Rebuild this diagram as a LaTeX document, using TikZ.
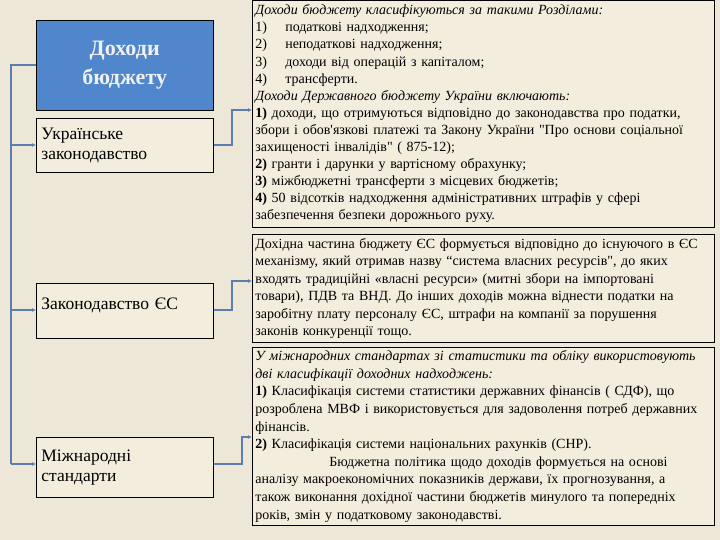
\documentclass[tikz,border=0pt]{standalone}
\usepackage{fontspec}
\setmainfont{Liberation Serif}
\usetikzlibrary{arrows.meta}
\definecolor{bgc}{HTML}{EDE7D7}
\definecolor{boxc}{HTML}{F3EDDD}
\definecolor{bluec}{HTML}{4F86CC}
\definecolor{linec}{HTML}{5B7DB0}
\tikzset{
 lbox/.style={draw=black,fill=boxc,line width=0.8pt,minimum width=177pt,anchor=north west,text width=167pt,align=left,font=\fontsize{17.5}{20}\selectfont,inner sep=5pt},
 rbox/.style={draw=black,fill=boxc,line width=0.8pt,minimum width=462pt,anchor=north west,text width=456pt,align=left,inner sep=3pt},
 conn/.style={draw=linec,line width=2pt,-{Latex[length=4pt,width=4pt]}},
}
\begin{document}
\begin{tikzpicture}[x=1pt,y=-1pt]
\fill[bgc] (0,0) rectangle (720,540);
\node[draw=black,fill=bluec,minimum width=177pt,minimum height=90pt,anchor=north west,align=center,text=white!88!gray,font=\bfseries\fontsize{22}{29}\selectfont] (top) at (36,20) {Доходи\\бюджету};
\node[lbox,minimum height=54pt] (ua) at (36,118) {Українське\\законодавство};
\node[lbox,minimum height=55pt,text depth=14pt] (eu) at (36,283) {Законодавство ЄС};
\node[lbox,minimum height=60pt] (int) at (36,437) {Міжнародні\\стандарти};

\node[rbox,minimum height=227pt,font=\fontsize{14}{17.1}\selectfont] (r1) at (252,0) {\textit{Доходи бюджету класифікуються за такими Розділами:}\\
1)\hspace{1.3em}податкові надходження;\\
2)\hspace{1.3em}неподаткові надходження;\\
3)\hspace{1.3em}доходи від операцій з капіталом;\\
4)\hspace{1.3em}трансферти.\\
\textit{Доходи Державного бюджету України включають:}\\
\textbf{1)} доходи, що отримуються відповідно до законодавства про податки,\\
збори і обов\textquotesingle язкові платежі та Закону України \textquotedbl Про основи соціальної\\
захищеності інвалідів\textquotedbl{} ( 875-12);\\
\textbf{2)} гранти і дарунки у вартісному обрахунку;\\
\textbf{3)} міжбюджетні трансферти з місцевих бюджетів;\\
\textbf{4)} 50 відсотків надходження адміністративних штрафів у сфері\\
забезпечення безпеки дорожнього руху.};

\node[rbox,minimum height=108pt,font=\fontsize{14}{17.4}\selectfont] (r2) at (252,234) {Дохідна частина бюджету ЄС формується відповідно до  існуючого в ЄС\\
механізму, який отримав назву ``система власних ресурсів\textquotedbl, до яких\\
входять традиційні «власні ресурси» (митні збори на імпортовані\\
товари), ПДВ та ВНД. До інших доходів можна віднести податки на\\
заробітну плату персоналу ЄС, штрафи на компанії за порушення\\
законів конкуренції тощо.};

\node[rbox,minimum height=178pt,font=\fontsize{14}{17.6}\selectfont] (r3) at (252,347) {\textit{У міжнародних стандартах зі статистики та обліку використовують}\\
\textit{дві класифікації доходних надходжень:}\\
\textbf{1)} Класифікація системи статистики державних фінансів ( СДФ), що\\
розроблена МВФ і використовується для задоволення потреб державних\\
фінансів.\\
\textbf{2)} Класифікація системи національних рахунків (СНР).\\
\hspace{74pt}Бюджетна політика щодо доходів формується на основі\\
аналізу макроекономічних показників держави, їх прогнозування, а\\
також виконання дохідної частини бюджетів минулого та попередніх\\
років, змін у податковому законодавстві.};

\coordinate (t0) at (11,65);
\draw[linec,line width=2pt] (top.west|-t0) -- (t0) -- (11,464);
\draw[conn] (11,145) -- (ua.west|-0,145);
\draw[conn] (11,310) -- (eu.west|-0,310);
\draw[conn] (11,464) -- (int.west|-0,464);
\draw[conn] (ua.east|-0,145) -- (232,145) -- (232,110) -- (r1.west|-0,110);
\draw[conn] (eu.east|-0,310) -- (232,310) -- (232,281) -- (r2.west|-0,281);
\draw[conn] (int.east|-0,464) -- (242,464) -- (242,437) -- (r3.west|-0,437);
\end{tikzpicture}
\end{document}
